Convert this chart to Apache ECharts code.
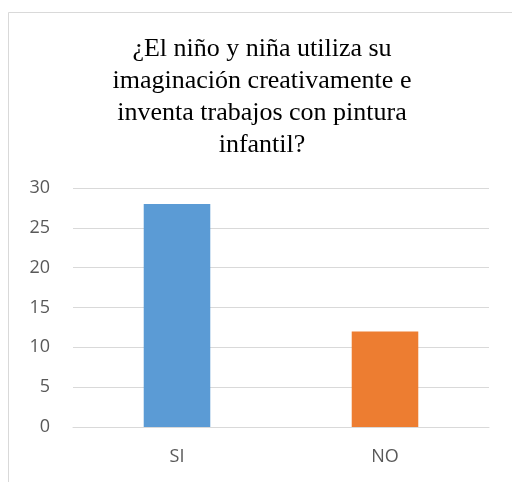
<!DOCTYPE html>
<html><head><meta charset="utf-8">
<script src="https://cdn.jsdelivr.net/npm/echarts@6/dist/echarts.min.js"></script>
<style>html,body{margin:0;padding:0;background:#fff}#c{width:512px;height:482px}</style>
</head><body><div id="c"></div>
<script>
const titleText = "¿El niño y niña utiliza su\nimaginación creativamente e\ninventa trabajos con pintura\ninfantil?";
const categories = ["SI", "NO"];
const values = [28, 12];
const colors = ["#5B9BD5", "#ED7D31"];
const yTicks = { min: 0, max: 30, interval: 5 };

const chart = echarts.init(document.getElementById('c'), null, { renderer: 'canvas' });
chart.setOption({
  animation: false,
  backgroundColor: '#fff',
  graphic: [
    { type: 'polyline', shape: { points: [[8.5, 482], [8.5, 12.5], [512, 12.5]] }, style: { stroke: '#d9d9d9', lineWidth: 1, fill: null } },
    { type: 'text', x: 262, y: 33, style: { text: titleText, textAlign: 'center', font: '26px "Liberation Serif"', lineHeight: 32, fill: '#000' } }
  ],
  grid: { left: 73, right: 23, top: 188, bottom: 55, containLabel: false },
  xAxis: {
    type: 'category', data: categories,
    axisLine: { show: true, lineStyle: { color: '#d9d9d9', width: 1 } },
    axisTick: { show: false },
    axisLabel: { color: '#595959', fontSize: 18, fontFamily: 'Open Sans', margin: 21 }
  },
  yAxis: {
    type: 'value', min: yTicks.min, max: yTicks.max, interval: yTicks.interval,
    axisLine: { show: false }, axisTick: { show: false },
    splitLine: { lineStyle: { color: '#d9d9d9', width: 1 } },
    axisLabel: { color: '#595959', fontSize: 18, fontFamily: 'Open Sans', margin: 23 }
  },
  series: [{
    type: 'bar', barWidth: '32%',
    data: values.map((v, i) => ({ value: v, itemStyle: { color: colors[i] } }))
  }]
});
</script></body></html>
